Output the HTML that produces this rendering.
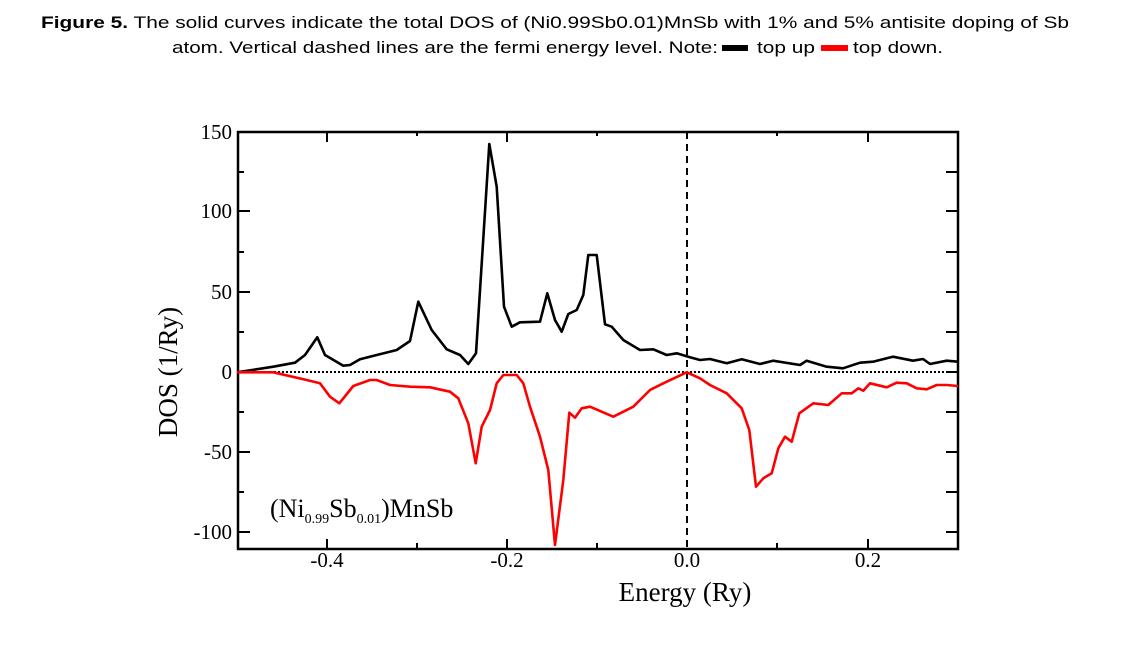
<!DOCTYPE html>
<html><head><meta charset="utf-8"><style>
html,body{margin:0;padding:0;background:#fff;}
svg{display:block;}
</style></head><body>
<svg width="1123" height="653" viewBox="0 0 1123 653" xmlns="http://www.w3.org/2000/svg">
<g font-family="Liberation Sans, Arial, sans-serif" font-size="17" fill="#000">
<text x="41" y="28" textLength="1028" lengthAdjust="spacingAndGlyphs"><tspan font-weight="bold">Figure 5.</tspan> The solid curves indicate the total DOS of (Ni0.99Sb0.01)MnSb with 1% and  5% antisite doping of Sb</text>
<text x="172" y="53" textLength="546" lengthAdjust="spacingAndGlyphs">atom. Vertical dashed lines are the fermi energy level. Note:</text>
<text x="757" y="53" textLength="58" lengthAdjust="spacingAndGlyphs">top up</text>
<text x="853" y="53" textLength="90" lengthAdjust="spacingAndGlyphs">top down.</text>
</g>
<rect x="722" y="45" width="26" height="6" fill="#000"/>
<rect x="821" y="45" width="27" height="6" fill="#f00"/>

<!-- frame -->
<rect x="238" y="132" width="720" height="417" fill="none" stroke="#000" stroke-width="2.5"/>
<g stroke="#000" stroke-width="2">
<!-- y ticks left/right -->
<line x1="238" y1="211" x2="250" y2="211"/><line x1="238" y1="252" x2="244" y2="252"/>
<line x1="238" y1="292" x2="250" y2="292"/><line x1="238" y1="332" x2="244" y2="332"/>
<line x1="238" y1="452" x2="250" y2="452"/><line x1="238" y1="412" x2="244" y2="412"/>
<line x1="238" y1="532" x2="250" y2="532"/><line x1="238" y1="492" x2="244" y2="492"/>
<line x1="238" y1="172" x2="244" y2="172"/>
<line x1="958" y1="172" x2="946" y2="172"/><line x1="958" y1="211" x2="946" y2="211"/>
<line x1="958" y1="252" x2="946" y2="252"/><line x1="958" y1="292" x2="946" y2="292"/>
<line x1="958" y1="332" x2="946" y2="332"/><line x1="958" y1="372" x2="946" y2="372"/>
<line x1="958" y1="412" x2="946" y2="412"/><line x1="958" y1="452" x2="946" y2="452"/>
<line x1="958" y1="492" x2="946" y2="492"/><line x1="958" y1="532" x2="946" y2="532"/>
<!-- x ticks -->
<line x1="327" y1="549" x2="327" y2="539"/><line x1="417" y1="549" x2="417" y2="543"/>
<line x1="507" y1="549" x2="507" y2="539"/><line x1="597" y1="549" x2="597" y2="543"/>
<line x1="777" y1="549" x2="777" y2="543"/><line x1="868" y1="549" x2="868" y2="539"/>
<line x1="327" y1="132" x2="327" y2="142"/><line x1="417" y1="132" x2="417" y2="136"/>
<line x1="507" y1="132" x2="507" y2="142"/><line x1="597" y1="132" x2="597" y2="136"/>
<line x1="777" y1="132" x2="777" y2="136"/><line x1="868" y1="132" x2="868" y2="142"/>
</g>
<line x1="238" y1="372" x2="958" y2="372" stroke="#000" stroke-width="2" stroke-dasharray="2,2"/>
<line x1="687" y1="132" x2="687" y2="549" stroke="#000" stroke-width="2" stroke-dasharray="7,5"/>

<polyline fill="none" stroke="#000" stroke-width="2.6" stroke-linejoin="round" points="237.3,372.3 273.3,366.7 295,362.7 305,355 317.3,337.3 325,355 343.3,365.7 350,365 360,359.3 376.7,355 396.7,350 410,341 418.3,301.7 431.7,330 446.7,349.3 460,355 468.3,364 476,353.3 489.3,144 496.7,186.7 504,306.7 511.7,326.7 520,322.3 540,321.7 547.3,293.3 555,320 561.7,331.7 568.3,314 576.7,310 583.3,295 588.3,255 596.7,255 605,324.3 611.7,326.7 623.3,340 640,350 653.3,349.3 666.7,355 676.7,353.3 690,357.3 700,360 710,359 726.7,363.3 741.7,359.3 760,364 773,360.7 800,365 806.7,360.7 826.7,366.7 843,368.3 860,362.7 873,361.7 893,356.7 913,360.7 923,359 930,364 946.7,360.7 958,361.7"/>
<polyline fill="none" stroke="#f00" stroke-width="2.6" stroke-linejoin="round" points="237.3,372.3 273.3,372.3 306.7,380 320,383.3 330,396.7 339.3,403.3 353.3,386 370,380 376.7,380 390,385 410,386.7 430,387.3 450,391.7 458.3,398.3 468.3,423.3 475.7,463.3 481.7,426.7 490,410 496.7,383.3 503.3,375 516.7,375 523.3,383.3 530,406.7 540,436.7 548.3,470 555,545 563.3,480 569.3,412.7 575,417.7 581.7,408.3 590,406.7 613.3,416.7 633.3,406.7 650,390 663.3,383.3 686.7,372.3 700,378.3 710,385 726.7,393.3 741.7,408.3 749.3,430 756,486.7 763.3,478.3 771.7,473.3 778.3,448.3 785,436.7 791.7,441.7 799.3,413.3 813.3,403.3 828.3,405 841.7,393.3 851.7,393.3 858.3,388.3 863.3,390.7 870,383.3 886.7,387.3 896.7,382.7 906.7,383.3 916.7,388.3 926.7,389.3 936.7,385 946.7,385 958,386"/>

<g font-family="Liberation Serif, 'Times New Roman', serif" fill="#000">
<g font-size="21" text-anchor="end">
<text x="232" y="139">150</text>
<text x="232" y="218">100</text>
<text x="232" y="299">50</text>
<text x="232" y="379">0</text>
<text x="232" y="459">-50</text>
<text x="232" y="539">-100</text>
</g>
<g font-size="21" text-anchor="middle">
<text x="327" y="567">-0.4</text>
<text x="507" y="567">-0.2</text>
<text x="687" y="567">0.0</text>
<text x="868" y="567">0.2</text>
</g>
<text x="685" y="601" font-size="27" text-anchor="middle">Energy  (Ry)</text>
<text transform="translate(177,372) rotate(-90)" font-size="27" text-anchor="middle">DOS (1/Ry)</text>
<text x="270" y="517" font-size="26">(Ni<tspan font-size="14" dy="6">0.99</tspan><tspan dy="-6">Sb</tspan><tspan font-size="14" dy="6">0.01</tspan><tspan dy="-6">)MnSb</tspan></text>
</g>
</svg>
</body></html>
